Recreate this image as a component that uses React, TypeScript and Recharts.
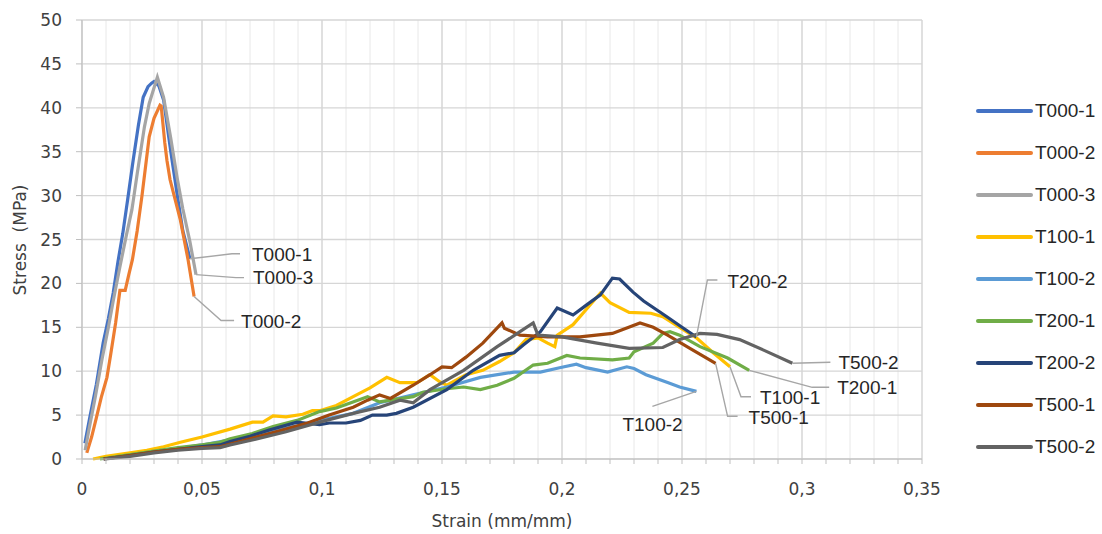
import React from "react";
import {
  LineChart,
  Line,
  XAxis,
  YAxis,
  CartesianGrid,
  Legend,
  ReferenceDot,
} from "recharts";

// strain (mm/mm), stress (MPa) pairs
const t000_1: [number, number][] = [
  [0.0012, 1.8], [0.0033, 4.8], [0.006, 8.5], [0.0088, 13.2], [0.011, 16], [0.013, 18.9],
  [0.015, 22.5], [0.017, 25.7], [0.019, 29.5], [0.0213, 34], [0.0235, 38], [0.0255, 41.2],
  [0.0275, 42.4], [0.029, 42.8], [0.03, 43], [0.032, 42.5], [0.034, 40.9], [0.037, 35],
  [0.04, 29.5], [0.042, 26], [0.045, 22.8],
];
const t000_2: [number, number][] = [
  [0.002, 0.7], [0.004, 2.5], [0.006, 4.7], [0.008, 7], [0.0104, 9.3], [0.012, 12],
  [0.014, 15.5], [0.0158, 19.2], [0.018, 19.2], [0.0195, 21], [0.021, 22.7], [0.023, 26],
  [0.025, 30], [0.028, 36.7], [0.03, 38.8], [0.0325, 40.3], [0.033, 40.2], [0.0345, 36],
  [0.0354, 34], [0.0367, 31.8], [0.041, 27.2], [0.0442, 22.7], [0.0467, 18.5],
];
const t000_3: [number, number][] = [
  [0.0013, 1], [0.003, 3.5], [0.0055, 7], [0.0083, 11.3], [0.011, 15], [0.013, 18],
  [0.0158, 21.9], [0.0185, 25.5], [0.0208, 28.4], [0.023, 32.5], [0.026, 37.8], [0.028, 40.5],
  [0.0314, 43.5], [0.034, 41.2], [0.037, 36.5], [0.0396, 32.1], [0.042, 28.5], [0.045, 24.7],
  [0.0475, 21],
];
const t100_1: [number, number][] = [
  [0.0046, 0], [0.01, 0.3], [0.02, 0.7], [0.027, 1], [0.034, 1.4], [0.041, 1.9], [0.05, 2.5],
  [0.0617, 3.4], [0.071, 4.2], [0.0754, 4.2], [0.0796, 4.9], [0.085, 4.8], [0.092, 5.1],
  [0.096, 5.5], [0.099, 5.5], [0.106, 6.1], [0.113, 7.1], [0.12, 8.1], [0.127, 9.3],
  [0.1325, 8.7], [0.1396, 8.7], [0.145, 9.6], [0.149, 8.8], [0.152, 8.4], [0.16, 9.6],
  [0.167, 10.1], [0.174, 11.1], [0.18, 12.1], [0.185, 13.6], [0.19, 13.8], [0.194, 13.2],
  [0.197, 12.8], [0.198, 14.1], [0.2046, 15.3], [0.21, 17], [0.216, 18.9], [0.22, 17.8],
  [0.228, 16.7], [0.237, 16.6], [0.242, 16.2], [0.249, 15], [0.256, 13.8], [0.263, 12.1],
  [0.27, 10.5],
];
const t100_2: [number, number][] = [
  [0.009, 0], [0.02, 0.4], [0.03, 0.8], [0.04, 1.2], [0.05, 1.6], [0.06, 2.1], [0.07, 2.6],
  [0.08, 3.2], [0.09, 3.8], [0.099, 4.4], [0.106, 4.8], [0.113, 5.2], [0.124, 6.4],
  [0.138, 7.3], [0.152, 8.2], [0.166, 9.3], [0.18, 9.9], [0.191, 9.9], [0.199, 10.4],
  [0.206, 10.8], [0.21, 10.4], [0.219, 9.9], [0.227, 10.5], [0.23, 10.3], [0.235, 9.6],
  [0.244, 8.7], [0.249, 8.2], [0.256, 7.7],
];
const t200_1: [number, number][] = [
  [0.0075, 0], [0.02, 0.5], [0.03, 0.9], [0.04, 1.3], [0.05, 1.6], [0.0575, 1.9],
  [0.0617, 2.3], [0.071, 2.9], [0.0796, 3.7], [0.0896, 4.4], [0.099, 5.4], [0.106, 5.8],
  [0.119, 7.1], [0.124, 6.5], [0.138, 7.1], [0.142, 7.6], [0.152, 8], [0.159, 8.2],
  [0.166, 7.9], [0.173, 8.4], [0.18, 9.2], [0.188, 10.7], [0.194, 10.9], [0.202, 11.8],
  [0.2075, 11.5], [0.221, 11.3], [0.228, 11.5], [0.23, 12.2], [0.238, 13.2], [0.242, 14.3],
  [0.245, 14.5], [0.249, 14.1], [0.2575, 12.8], [0.269, 11.5], [0.278, 10.1],
];
const t200_2: [number, number][] = [
  [0.009, 0], [0.02, 0.4], [0.03, 0.8], [0.04, 1.1], [0.05, 1.4], [0.0575, 1.6],
  [0.0617, 2], [0.07, 2.6], [0.078, 3.3], [0.0896, 4.2], [0.099, 3.9], [0.103, 4.1],
  [0.11, 4.1], [0.116, 4.4], [0.121, 5], [0.127, 5], [0.131, 5.2], [0.138, 5.9],
  [0.152, 7.9], [0.163, 10.1], [0.174, 11.8], [0.18, 12.1], [0.184, 13], [0.191, 14.5],
  [0.198, 17.2], [0.2046, 16.4], [0.21, 17.5], [0.216, 18.7], [0.221, 20.6], [0.224, 20.5],
  [0.2296, 19], [0.234, 18], [0.2437, 16.2], [0.25, 15], [0.256, 13.9],
];
const t500_1: [number, number][] = [
  [0.009, 0], [0.02, 0.4], [0.03, 0.8], [0.04, 1.1], [0.05, 1.3], [0.0575, 1.4],
  [0.07, 2.3], [0.0796, 3], [0.094, 4.1], [0.103, 5], [0.113, 5.9], [0.119, 6.7],
  [0.124, 7.3], [0.1285, 6.9], [0.138, 8.4], [0.145, 9.6], [0.15, 10.5], [0.154, 10.4],
  [0.16, 11.6], [0.167, 13.2], [0.175, 15.5], [0.176, 14.9], [0.1825, 14.1], [0.194, 13.9],
  [0.2075, 13.9], [0.221, 14.3], [0.2325, 15.5], [0.238, 15], [0.244, 14.1], [0.2533, 12.6],
  [0.264, 10.9],
];
const t500_2: [number, number][] = [
  [0.0096, 0], [0.02, 0.3], [0.03, 0.7], [0.04, 1], [0.05, 1.2], [0.0575, 1.3],
  [0.0617, 1.6], [0.07, 2.1], [0.085, 3.1], [0.099, 4.2], [0.113, 5.2], [0.124, 5.9],
  [0.1325, 6.7], [0.138, 6.4], [0.145, 7.9], [0.159, 10.1], [0.173, 12.8], [0.1825, 14.5],
  [0.188, 15.5], [0.19, 14.1], [0.2, 13.9], [0.2146, 13.2], [0.228, 12.6], [0.242, 12.7],
  [0.249, 13.6], [0.2575, 14.3], [0.2646, 14.2], [0.274, 13.6], [0.284, 12.4], [0.296, 10.9],
];

const SERIES = [
  { name: "T000-1", color: "#4472C4", data: t000_1 },
  { name: "T000-2", color: "#ED7D31", data: t000_2 },
  { name: "T000-3", color: "#A5A5A5", data: t000_3 },
  { name: "T100-1", color: "#FFC000", data: t100_1 },
  { name: "T100-2", color: "#5B9BD5", data: t100_2 },
  { name: "T200-1", color: "#70AD47", data: t200_1 },
  { name: "T200-2", color: "#264478", data: t200_2 },
  { name: "T500-1", color: "#9E480E", data: t500_1 },
  { name: "T500-2", color: "#636363", data: t500_2 },
];

// leader-line offsets (px) from each curve's last point
const LEADERS: Record<string, { pts: number[][]; text: number[] }> = {
  "T000-1": { pts: [[42, -5], [50, -5]], text: [62, -4] },
  "T000-3": { pts: [[40, 3], [48, 3]], text: [57, 3] },
  "T000-2": { pts: [[27, 24], [40, 24]], text: [47, 25] },
  "T200-2": { pts: [[11, -57], [21, -57]], text: [31, -55] },
  "T500-2": { pts: [[38, -1]], text: [46, -1] },
  "T200-1": { pts: [[63, 17], [80, 17]], text: [88, 17] },
  "T100-1": { pts: [[11, 30], [21, 30]], text: [30, 31] },
  "T500-1": { pts: [[12, 53], [22, 53]], text: [33, 54] },
  "T100-2": { pts: [[-44, 15]], text: [-74, 33] },
};

const X_MAX = 0.35;
const X_TICKS = Array.from({ length: 36 }, (_, i) => +(i * 0.01).toFixed(2));
const X_MAJOR = [0, 0.05, 0.1, 0.15, 0.2, 0.25, 0.3, 0.35];
const Y_TICKS = [0, 5, 10, 15, 20, 25, 30, 35, 40, 45, 50];

const TICK_FONT = "'DejaVu Sans', sans-serif";
const LABEL_FONT = "'Liberation Sans', Arial, sans-serif";

const fmtX = (v: number) =>
  Math.round(v * 100) % 5 === 0 ? String(v).replace(".", ",") : "";

const leaderShape = (name: string) => (props: any) => {
  const { cx, cy } = props;
  const L = LEADERS[name];
  const pts = [[cx, cy], ...L.pts.map(([dx, dy]) => [cx + dx, cy + dy])]
    .map((p) => p.join(","))
    .join(" ");
  return (
    <g>
      <polyline points={pts} fill="none" stroke="#A6A6A6" strokeWidth={1.4} />
      <text
        x={cx + L.text[0]}
        y={cy + L.text[1]}
        dominantBaseline="central"
        fontFamily={LABEL_FONT}
        fontSize={19}
        fill="#262626"
      >
        {name}
      </text>
    </g>
  );
};

const renderLegend = () => (
  <div style={{ fontFamily: LABEL_FONT }}>
    {SERIES.map((s) => (
      <div key={s.name} style={{ height: 42, display: "flex", alignItems: "center" }}>
        <svg width={58} height={10}>
          <line x1={3} x2={56} y1={5} y2={5} stroke={s.color} strokeWidth={4} strokeLinecap="round" />
        </svg>
        <span style={{ marginLeft: 2, fontSize: 19, color: "#262626", whiteSpace: "nowrap" }}>{s.name}</span>
      </div>
    ))}
  </div>
);

export default function App() {
  return (
    <div style={{ position: "absolute", left: 0, top: 0, background: "#fff" }}>
      <LineChart width={1102} height={534} margin={{ top: 20, right: 180, bottom: 0, left: 0 }}>
        <CartesianGrid horizontal={false} stroke="#E8E8E8" strokeWidth={1} />
        <CartesianGrid
          stroke="#D6D6D6"
          strokeWidth={1.3}
          verticalCoordinatesGenerator={({ offset }: any) =>
            X_MAJOR.map((v) => offset.left + (v / X_MAX) * offset.width)
          }
        />
        <XAxis
          type="number"
          dataKey="x"
          domain={[0, X_MAX]}
          ticks={X_TICKS}
          interval={0}
          tickFormatter={fmtX}
          height={75}
          tickSize={5}
          tickMargin={19}
          axisLine={{ stroke: "#BFBFBF" }}
          tickLine={{ stroke: "#BFBFBF" }}
          tick={{ fontFamily: TICK_FONT, fontSize: 17, fill: "#404040" }}
          allowDataOverflow
          label={() => (
            <text x={502} y={527} textAnchor="middle" fontFamily={TICK_FONT} fontSize={17} fill="#404040">
              Strain (mm/mm)
            </text>
          )}
        />
        <YAxis
          type="number"
          domain={[0, 50]}
          ticks={Y_TICKS}
          interval={0}
          width={82}
          tickSize={6}
          tickMargin={14}
          axisLine={{ stroke: "#BFBFBF" }}
          tickLine={{ stroke: "#BFBFBF" }}
          tick={{ fontFamily: TICK_FONT, fontSize: 17, fill: "#404040" }}
          label={() => (
            <text
              x={20}
              y={240}
              transform="rotate(-90, 20, 240)"
              textAnchor="middle"
              dominantBaseline="central"
              fontFamily={TICK_FONT}
              fontSize={17}
              fill="#404040"
              style={{ whiteSpace: "pre" }}
            >
              {"Stress  (MPa)"}
            </text>
          )}
        />
        {SERIES.map((s) => (
          <Line
            key={s.name}
            name={s.name}
            data={s.data.map(([x, y]) => ({ x, y }))}
            dataKey="y"
            type="linear"
            stroke={s.color}
            strokeWidth={3.2}
            dot={false}
            activeDot={false}
            isAnimationActive={false}
          />
        ))}
        {SERIES.map((s) => {
          const last = s.data[s.data.length - 1];
          return (
            <ReferenceDot
              key={"lbl-" + s.name}
              x={last[0]}
              y={last[1]}
              r={0}
              ifOverflow="visible"
              shape={leaderShape(s.name)}
            />
          );
        })}
        <Legend
          layout="vertical"
          align="center"
          verticalAlign="middle"
          content={renderLegend}
          wrapperStyle={{ left: 975, top: 90, width: 127, height: 380 }}
        />
      </LineChart>
    </div>
  );
}
